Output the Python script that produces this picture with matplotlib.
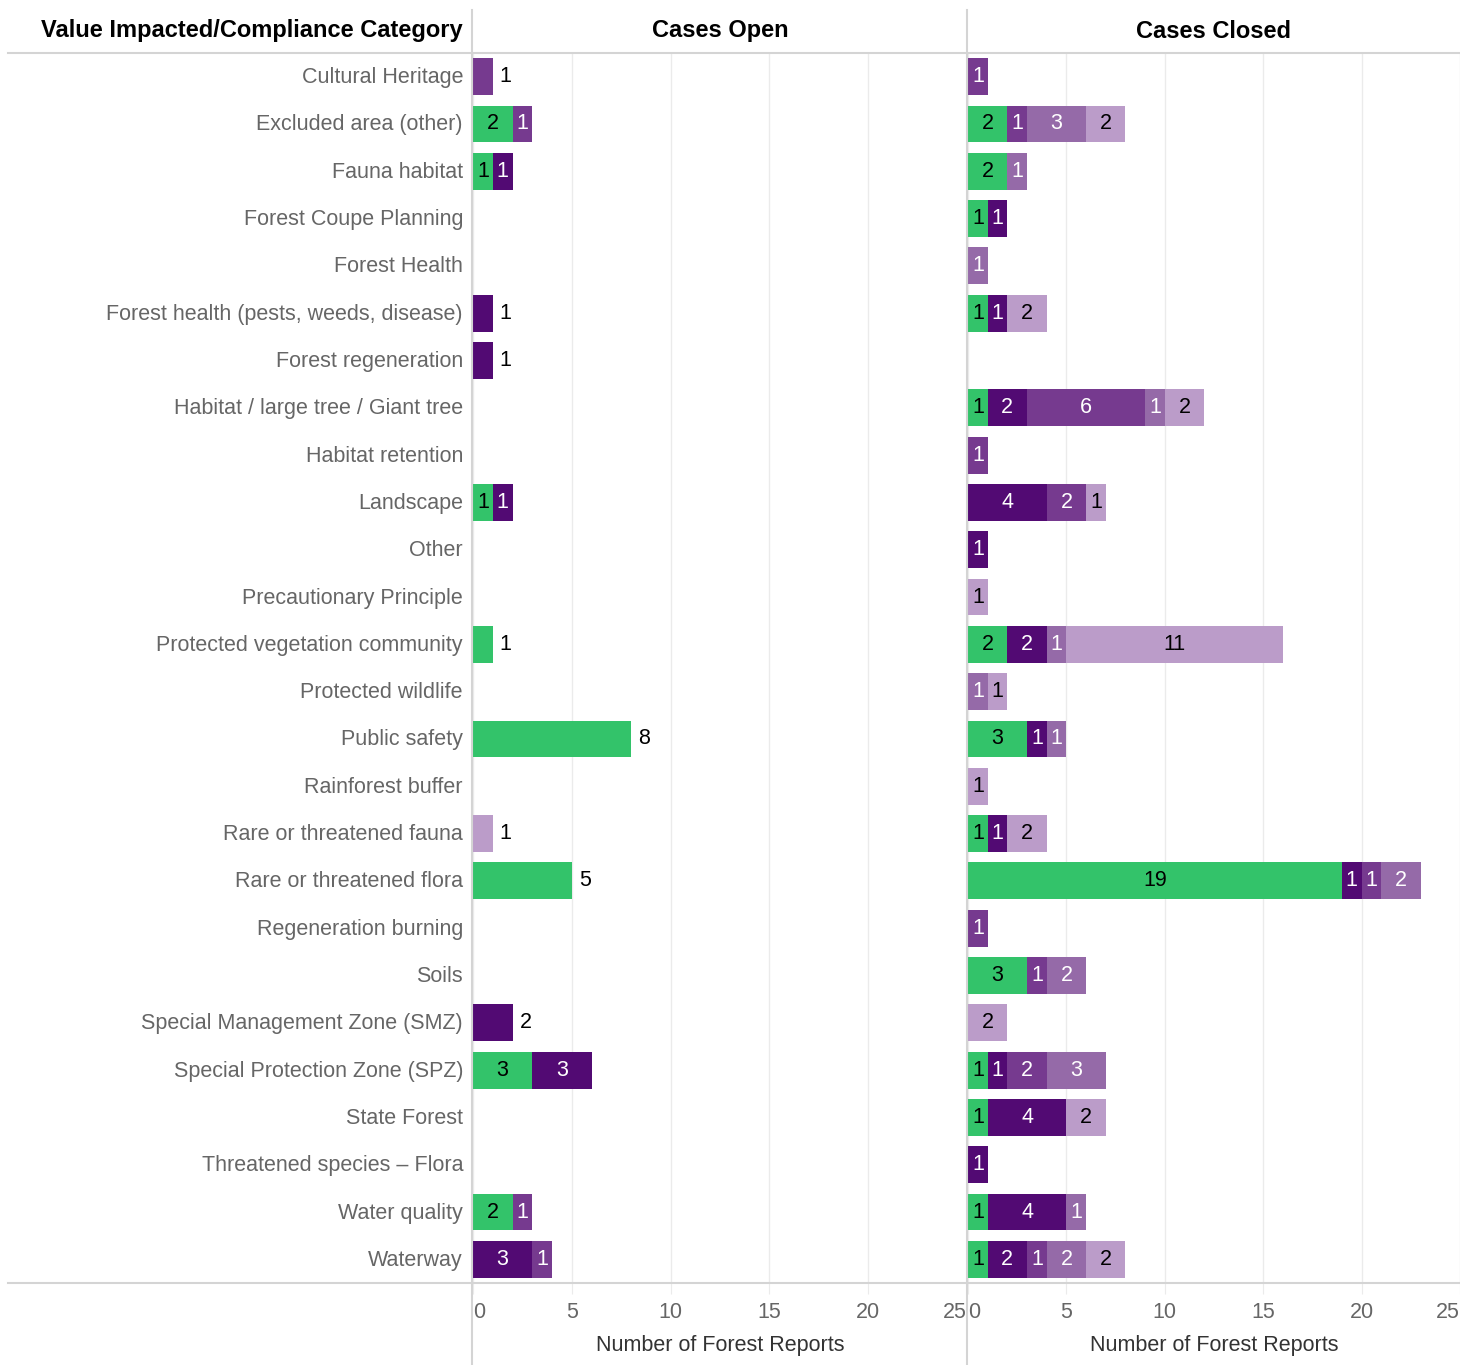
import matplotlib.pyplot as plt
from matplotlib.lines import Line2D
import numpy as np

plt.rcParams['font.family'] = ['Liberation Sans', 'DejaVu Sans']

# 表データ
categories = [
    "Cultural Heritage", "Excluded area (other)", "Fauna habitat",
    "Forest Coupe Planning", "Forest Health",
    "Forest health (pests, weeds, disease)", "Forest regeneration",
    "Habitat / large tree / Giant tree", "Habitat retention", "Landscape",
    "Other", "Precautionary Principle", "Protected vegetation community",
    "Protected wildlife", "Public safety", "Rainforest buffer",
    "Rare or threatened fauna", "Rare or threatened flora",
    "Regeneration burning", "Soils", "Special Management Zone (SMZ)",
    "Special Protection Zone (SPZ)", "State Forest",
    "Threatened species \u2013 Flora", "Water quality", "Waterway",
]

# 5つの区分ごとの件数 (行 = カテゴリ)
open_s1 = [0, 2, 1, 0, 0, 0, 0, 0, 0, 1, 0, 0, 1, 0, 8, 0, 0, 5, 0, 0, 0, 3, 0, 0, 2, 0]
open_s2 = [0, 0, 1, 0, 0, 1, 1, 0, 0, 1, 0, 0, 0, 0, 0, 0, 0, 0, 0, 0, 2, 3, 0, 0, 0, 3]
open_s3 = [1, 1, 0, 0, 0, 0, 0, 0, 0, 0, 0, 0, 0, 0, 0, 0, 0, 0, 0, 0, 0, 0, 0, 0, 1, 1]
open_s4 = [0, 0, 0, 0, 0, 0, 0, 0, 0, 0, 0, 0, 0, 0, 0, 0, 0, 0, 0, 0, 0, 0, 0, 0, 0, 0]
open_s5 = [0, 0, 0, 0, 0, 0, 0, 0, 0, 0, 0, 0, 0, 0, 0, 0, 1, 0, 0, 0, 0, 0, 0, 0, 0, 0]

closed_s1 = [0, 2, 2, 1, 0, 1, 0, 1, 0, 0, 0, 0, 2, 0, 3, 0, 1, 19, 0, 3, 0, 1, 1, 0, 1, 1]
closed_s2 = [0, 0, 0, 1, 0, 1, 0, 2, 0, 4, 1, 0, 2, 0, 1, 0, 1, 1, 0, 0, 0, 1, 4, 1, 4, 2]
closed_s3 = [1, 1, 0, 0, 0, 0, 0, 6, 1, 2, 0, 0, 0, 0, 0, 0, 0, 1, 1, 1, 0, 2, 0, 0, 0, 1]
closed_s4 = [0, 3, 1, 0, 1, 0, 0, 1, 0, 0, 0, 0, 1, 1, 1, 0, 0, 2, 0, 2, 0, 3, 0, 0, 1, 2]
closed_s5 = [0, 2, 0, 0, 0, 2, 0, 2, 0, 1, 0, 1, 11, 1, 0, 1, 2, 0, 0, 0, 2, 0, 2, 0, 0, 2]

x_ticks = [0, 5, 10, 15, 20, 25]

colors = ['#33c36a', '#520a73', '#763a8f', '#956aa8', '#bb9cc9']
text_colors = ['black', 'white', 'white', 'white', 'black']

W, H = 1460, 1365
FS = 15.5


def fx(x):
    return x / W


def fy(y):
    return 1 - y / H


fig = plt.figure(figsize=(W / 100, H / 100), dpi=100)

top, bottom = 53, 1283


def draw_panel(left, right, series, outside_single):
    ax = fig.add_axes([fx(left), fy(bottom), fx(right - left), (bottom - top) / H])
    n = len(categories)
    y = np.arange(n)
    left_acc = np.zeros(n)
    for k, vals in enumerate(series):
        vals = np.array(vals, dtype=float)
        mask = vals > 0
        ax.barh(y[mask], vals[mask], left=left_acc[mask], height=0.78,
                color=colors[k], linewidth=0, zorder=2)
        left_acc = left_acc + vals
    # ラベル
    nonzero = np.array([[v > 0 for v in s] for s in series]).sum(axis=0)
    for i in range(n):
        acc = 0
        for k, vals in enumerate(series):
            v = vals[i]
            if v > 0:
                if outside_single and nonzero[i] == 1:
                    ax.text(acc + v + 0.35, i, str(v), ha='left', va='center',
                            fontsize=FS, color='black', zorder=3)
                else:
                    ax.text(acc + v / 2, i, str(v), ha='center', va='center',
                            fontsize=FS, color=text_colors[k], zorder=3)
            acc += v
    ax.set_xlim(0, 25)
    ax.set_ylim(n - 0.5, -0.5)
    ax.set_yticks([])
    ax.set_xticks(x_ticks)
    ax.set_xticklabels([str(t) for t in x_ticks])
    labels = ax.get_xticklabels()
    labels[0].set_ha('left')
    labels[-1].set_ha('right')
    ax.tick_params(axis='x', length=8, color='#ebebeb', labelsize=FS,
                   labelcolor='#666666', pad=6)
    ax.xaxis.grid(True, color='#ebebeb', linewidth=1, zorder=0)
    ax.set_axisbelow(True)
    for sp in ax.spines.values():
        sp.set_visible(False)
    ax.set_xlabel('Number of Forest Reports', fontsize=FS, color='#333333', labelpad=8)
    return ax


open_series = [open_s1, open_s2, open_s3, open_s4, open_s5]
closed_series = [closed_s1, closed_s2, closed_s3, closed_s4, closed_s5]

ax_open = draw_panel(473, 967, open_series, True)
ax_closed = draw_panel(968, 1460, closed_series, False)

# カテゴリ名
for i, name in enumerate(categories):
    yc = top + (bottom - top) / len(categories) * (i + 0.5)
    fig.text(fx(463), fy(yc + 1), name, ha='right', va='center', fontsize=FS, color='#666666')

# ヘッダー
fig.text(fx(463), fy(31), 'Value Impacted/Compliance Category', ha='right', va='center',
         fontsize=17, fontweight='bold', color='black')
fig.text(fx(720), fy(31), 'Cases Open', ha='center', va='center',
         fontsize=17, fontweight='bold', color='black')
fig.text(fx(1214), fy(31), 'Cases Closed', ha='center', va='center',
         fontsize=17, fontweight='bold', color='black')

# 区切り線
line_color = '#d4d4d4'
fig.add_artist(Line2D([fx(8), fx(1460)], [fy(top), fy(top)], color=line_color, lw=1.5))
fig.add_artist(Line2D([fx(8), fx(1460)], [fy(bottom), fy(bottom)], color=line_color, lw=1.5))
for xv in (472, 967):
    fig.add_artist(Line2D([fx(xv), fx(xv)], [fy(10), fy(1365)], color=line_color, lw=1.5))

fig.savefig('out.png', dpi=100)
